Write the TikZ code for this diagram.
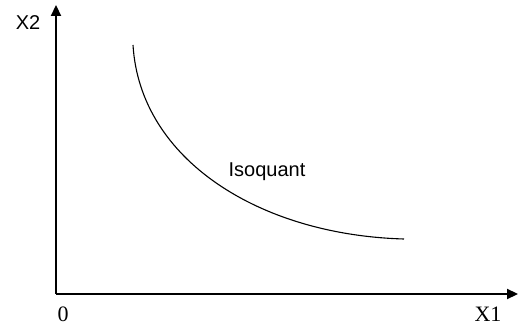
\documentclass[tikz,border=0pt]{standalone}
\usepackage{fontspec}
\setmainfont{Liberation Serif}
\setsansfont{Liberation Sans}
\usetikzlibrary{arrows.meta,positioning}
\tikzset{
  axis/.style={line width=2.2pt, -{Triangle[length=11pt,width=10pt]}},
  curveline/.style={line width=1.1pt},
  sanslabel/.style={inner sep=0pt, anchor=base, font=\sffamily\fontsize{20}{22}\selectfont},
  seriflabel/.style={inner sep=0pt, anchor=base, font=\fontsize{22}{24}\selectfont}
}

\begin{document}
\begin{tikzpicture}[x=1pt, y=1pt]
\useasboundingbox (0,0) rectangle (519,329);
\coordinate (origin) at (56,35);
\coordinate (xtip) at (518,35);
\coordinate (ytip) at (56,324);
\coordinate (qstart) at (133,284);
\coordinate (qend) at (404,90);
% axes
\draw[axis] (origin) -- (xtip);
\draw[axis] (origin) -- (ytip);
% isoquant curve
\draw[curveline] (qstart) .. controls (140,169) and (260,94) .. (qend);
\node[seriflabel] (zero) at (63,7) {0};
\node[seriflabel] (xlab) at (488,7) {X1};
\node[sanslabel] (ylab) at (28,299) {X2};
\node[sanslabel] (iso) at (267,152) {Isoquant};
\end{tikzpicture}
\end{document}
